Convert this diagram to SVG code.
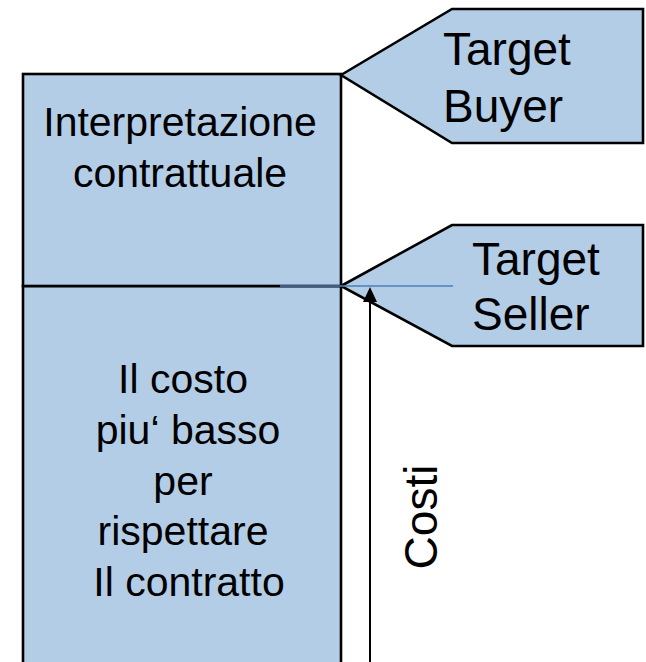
<svg xmlns="http://www.w3.org/2000/svg" width="646" height="662" viewBox="0 0 646 662">
  <style>
    .shape { fill: #B3CDE6; stroke: #000; stroke-width: 2.6; stroke-linejoin: miter; }
    .txt { font-family: "Liberation Sans", Arial, sans-serif; fill: #000; }
    .box { font-size: 41px; text-anchor: middle; }
    .tag { font-size: 46px; }
    .lead { stroke: #000; stroke-width: 2; fill: none; }
    .guide { stroke: #4A7EBB; stroke-width: 1.6; fill: none; }
  </style>

  <rect width="646" height="662" fill="#fff"/>

  <!-- lower box: cheapest way to perform -->
  <g id="box-cost">
    <rect class="shape" x="23" y="286" width="318" height="390"/>
    <text class="txt box" x="183" y="393">Il costo</text>
    <text class="txt box" x="188" y="444">piu‘ basso</text>
    <text class="txt box" x="183" y="495">per</text>
    <text class="txt box" x="183" y="545">rispettare</text>
    <text class="txt box" x="189" y="596">Il contratto</text>
  </g>

  <!-- upper box: contract interpretation -->
  <g id="box-interpretation">
    <rect class="shape" x="23" y="74" width="318" height="212"/>
    <text class="txt box" x="180" y="136" font-size="42">Interpretazione</text>
    <text class="txt box" x="180" y="187" font-size="42">contrattuale</text>
  </g>

  <!-- buyer pointer tag -->
  <g id="tag-buyer">
    <polygon class="shape" points="341,75 452,9 643,9 643,143 452,143"/>
    <text class="txt tag" x="443" y="65">Target</text>
    <text class="txt tag" x="443" y="122">Buyer</text>
  </g>

  <!-- seller pointer tag -->
  <g id="tag-seller">
    <polygon class="shape" points="341,286 452,225 643,225 643,346 452,346"/>
    <text class="txt tag" x="472" y="275">Target</text>
    <text class="txt tag" x="472" y="330">Seller</text>
  </g>

  <g id="connectors">
    <line class="guide" x1="280" y1="286" x2="453" y2="286"/>
    <line class="lead" x1="370" y1="662" x2="370" y2="301"/>
    <path d="M370,287 L377,302 L363,302 Z" fill="#000"/>
  </g>

  <g id="label-costs">
    <text class="txt" font-size="46" text-anchor="middle" transform="translate(437,517) rotate(-90)">Costi</text>
  </g>
</svg>
